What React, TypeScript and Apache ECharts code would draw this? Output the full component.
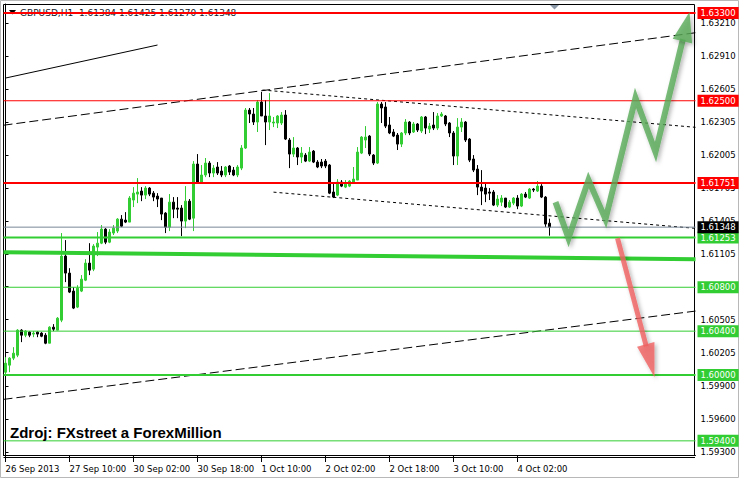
import React, { useEffect, useRef } from "react";
import * as echarts from "echarts";

const symbolTitle = "GBPUSD,H1  1.61384 1.61425 1.61270 1.61348";
const sourceNote = "Zdroj: FXstreet a ForexMillion";

const timeTickLabels = [
  "26 Sep 2013", "27 Sep 10:00", "30 Sep 02:00", "30 Sep 18:00", "1 Oct 10:00",
  "2 Oct 02:00", "2 Oct 18:00", "3 Oct 10:00", "4 Oct 02:00",
];
const barsBetweenTicks = 16;
const futureBars = 36;

const priceTicks = [
  1.593, 1.596, 1.599, 1.60205, 1.60505, 1.60805, 1.61105, 1.61405, 1.61705,
  1.62005, 1.62305, 1.62605, 1.6291, 1.6321,
];

const resistanceLevels = [1.633, 1.625, 1.61751];
const supportLevels = [1.61253, 1.608, 1.604, 1.6, 1.594];
const majorLevels = [1.633, 1.61751, 1.61253, 1.6];
const lastPrice = 1.61348;

// [open, high, low, close]
const ohlc: number[][] = [
  [1.60026, 1.60163, 1.6, 1.60108],
  [1.6009, 1.60163, 1.60026, 1.60154],
  [1.60154, 1.60254, 1.60136, 1.60199],
  [1.60181, 1.60418, 1.60163, 1.60409],
  [1.60409, 1.60418, 1.603, 1.60363],
  [1.60363, 1.60409, 1.60345, 1.604],
  [1.60391, 1.604, 1.60345, 1.60363],
  [1.60373, 1.604, 1.60345, 1.60382],
  [1.60391, 1.604, 1.60345, 1.60373],
  [1.60382, 1.60391, 1.60345, 1.60354],
  [1.60363, 1.60382, 1.60281, 1.6029],
  [1.6029, 1.60445, 1.6029, 1.60436],
  [1.60436, 1.60464, 1.604, 1.60418],
  [1.60409, 1.60528, 1.60409, 1.60518],
  [1.605, 1.61294, 1.60482, 1.61084],
  [1.61084, 1.6123, 1.60847, 1.60929],
  [1.60929, 1.60974, 1.60747, 1.60756],
  [1.60765, 1.60801, 1.60601, 1.6061],
  [1.60619, 1.60819, 1.6061, 1.60792],
  [1.60765, 1.60911, 1.60756, 1.60874],
  [1.60865, 1.61056, 1.60856, 1.6102],
  [1.6102, 1.61202, 1.60911, 1.60956],
  [1.60965, 1.61193, 1.60947, 1.61175],
  [1.61166, 1.61303, 1.61084, 1.61202],
  [1.61202, 1.61367, 1.61193, 1.6133],
  [1.6133, 1.61339, 1.61193, 1.61211],
  [1.61211, 1.6133, 1.61202, 1.61303],
  [1.61294, 1.61367, 1.61276, 1.61339],
  [1.61312, 1.6143, 1.61294, 1.61421],
  [1.61421, 1.61458, 1.61348, 1.61357],
  [1.61412, 1.61485, 1.61385, 1.61394],
  [1.61394, 1.61631, 1.61394, 1.61613],
  [1.61595, 1.61713, 1.61531, 1.61658],
  [1.61649, 1.61795, 1.61567, 1.61668],
  [1.61677, 1.61713, 1.61585, 1.6164],
  [1.6164, 1.61722, 1.61604, 1.61704],
  [1.61704, 1.61713, 1.61631, 1.61649],
  [1.61658, 1.61677, 1.61585, 1.61622],
  [1.61631, 1.61658, 1.61531, 1.61604],
  [1.61613, 1.61613, 1.61412, 1.61467],
  [1.61476, 1.61485, 1.61294, 1.61348],
  [1.61348, 1.6165, 1.61312, 1.61576],
  [1.61576, 1.61622, 1.6143, 1.61512],
  [1.61522, 1.61622, 1.6143, 1.61512],
  [1.61522, 1.61549, 1.61266, 1.61403],
  [1.61403, 1.61722, 1.61339, 1.61585],
  [1.61585, 1.61604, 1.61412, 1.61421],
  [1.6143, 1.6195, 1.61312, 1.61923],
  [1.61923, 1.62014, 1.6175, 1.61759],
  [1.61759, 1.61914, 1.6175, 1.61823],
  [1.61823, 1.61978, 1.61804, 1.61932],
  [1.61932, 1.6195, 1.61804, 1.61841],
  [1.61841, 1.61914, 1.61804, 1.61886],
  [1.61896, 1.61941, 1.61823, 1.61841],
  [1.61859, 1.61905, 1.61804, 1.61823],
  [1.61823, 1.61905, 1.61804, 1.61896],
  [1.61905, 1.61914, 1.61823, 1.6185],
  [1.61868, 1.61896, 1.61813, 1.61823],
  [1.61823, 1.61914, 1.61804, 1.61896],
  [1.61886, 1.62096, 1.61868, 1.62069],
  [1.62069, 1.62434, 1.6206, 1.62415],
  [1.62415, 1.62434, 1.62297, 1.62379],
  [1.62379, 1.62434, 1.62279, 1.62306],
  [1.62306, 1.62507, 1.62215, 1.62488],
  [1.62488, 1.6258, 1.62361, 1.62361],
  [1.62361, 1.62507, 1.62096, 1.62306],
  [1.62306, 1.6257, 1.62233, 1.62361],
  [1.62297, 1.62352, 1.6226, 1.62306],
  [1.62297, 1.6237, 1.62251, 1.62361],
  [1.62297, 1.62397, 1.62279, 1.6237],
  [1.6237, 1.62415, 1.62142, 1.62151],
  [1.62142, 1.6216, 1.61886, 1.62014],
  [1.62014, 1.62169, 1.61987, 1.62069],
  [1.62069, 1.62078, 1.61914, 1.61987],
  [1.61987, 1.62078, 1.61932, 1.62023],
  [1.62005, 1.62023, 1.61941, 1.6195],
  [1.6195, 1.62078, 1.61941, 1.62032],
  [1.62041, 1.62051, 1.61932, 1.61941],
  [1.61941, 1.61959, 1.61886, 1.61896],
  [1.61941, 1.61969, 1.61886, 1.61905],
  [1.6195, 1.61969, 1.61886, 1.61905],
  [1.61914, 1.61923, 1.61649, 1.61658],
  [1.61668, 1.6175, 1.61613, 1.61622],
  [1.6164, 1.61786, 1.61631, 1.61759],
  [1.61759, 1.61777, 1.61713, 1.61722],
  [1.61713, 1.61777, 1.61704, 1.6174],
  [1.61722, 1.61777, 1.61713, 1.61768],
  [1.61759, 1.61896, 1.61759, 1.61786],
  [1.61777, 1.62078, 1.61777, 1.62032],
  [1.62023, 1.62178, 1.62014, 1.62169],
  [1.62142, 1.62269, 1.62069, 1.62169],
  [1.62178, 1.62187, 1.61996, 1.62014],
  [1.62005, 1.62014, 1.61914, 1.61932],
  [1.61932, 1.62488, 1.61923, 1.6247],
  [1.6247, 1.62488, 1.62297, 1.62434],
  [1.62443, 1.62488, 1.62251, 1.62269],
  [1.62279, 1.62352, 1.62196, 1.62206],
  [1.62215, 1.62242, 1.62169, 1.62178],
  [1.62187, 1.62206, 1.62051, 1.62105],
  [1.62105, 1.62215, 1.62078, 1.62206],
  [1.62206, 1.62333, 1.62187, 1.62306],
  [1.62306, 1.62315, 1.62187, 1.62206],
  [1.62215, 1.62306, 1.62206, 1.62288],
  [1.62288, 1.62297, 1.62215, 1.62233],
  [1.62224, 1.62361, 1.62206, 1.62352],
  [1.62352, 1.62361, 1.62196, 1.62251],
  [1.62242, 1.62297, 1.62206, 1.62269],
  [1.62279, 1.62397, 1.62233, 1.62251],
  [1.62251, 1.62388, 1.62233, 1.62361],
  [1.62361, 1.62397, 1.62352, 1.62379],
  [1.62361, 1.6237, 1.62269, 1.62288],
  [1.62297, 1.62306, 1.62169, 1.62206],
  [1.62206, 1.62224, 1.61914, 1.61996],
  [1.61996, 1.62342, 1.61914, 1.6226],
  [1.6226, 1.62342, 1.62215, 1.62306],
  [1.62306, 1.62315, 1.62124, 1.62142],
  [1.62151, 1.6216, 1.61941, 1.61959],
  [1.61969, 1.62005, 1.6185, 1.61868],
  [1.61877, 1.61914, 1.6164, 1.61713],
  [1.61713, 1.61868, 1.61549, 1.61677],
  [1.61704, 1.6175, 1.61576, 1.61649],
  [1.61668, 1.61704, 1.61595, 1.61658],
  [1.61668, 1.61686, 1.6154, 1.61549],
  [1.61549, 1.6164, 1.61531, 1.61604],
  [1.61576, 1.6164, 1.6154, 1.61613],
  [1.61613, 1.61613, 1.61522, 1.61531],
  [1.61531, 1.61595, 1.61522, 1.61576],
  [1.61567, 1.61622, 1.61549, 1.61613],
  [1.61613, 1.6164, 1.61512, 1.6154],
  [1.6154, 1.61658, 1.61531, 1.61649],
  [1.61649, 1.61668, 1.61613, 1.61622],
  [1.61613, 1.61704, 1.61604, 1.61695],
  [1.61695, 1.61704, 1.61668, 1.61686],
  [1.61677, 1.61768, 1.61668, 1.61722],
  [1.61722, 1.6174, 1.61613, 1.61622],
  [1.61622, 1.61631, 1.61348, 1.61376],
  [1.61384, 1.61425, 1.6127, 1.61348],
];

// trend lines: [barIndex, price]
const solidTrend = [[0, 1.62707], [38, 1.63008]];
const channelUpper = [[-0.5, 1.62277], [172.5, 1.6312]];
const channelLower = [[-0.5, 1.59778], [172.5, 1.60583]];
const flagUpper = [[64.25, 1.62598], [172.5, 1.62258]];
const flagLower = [[67, 1.61667], [172.5, 1.61337]];
const supportTrend = [[-0.5, 1.6112], [172.5, 1.61056]];

// forecast arrows: [barIndex, price], last point is the tip
const bullPath = [
  [137.5, 1.61576], [140.75, 1.61248], [145.75, 1.61777], [150, 1.61421],
  [157.5, 1.62525], [162.5, 1.62032], [171, 1.63309],
];
const bearPath = [[153, 1.61248], [162.25, 1.5998]];

const FONT = "'DejaVu Sans', Tahoma, sans-serif";
const RED = "#ff0000";
const GREEN = "#32cd32";

export default function App() {
  const ref = useRef<HTMLDivElement>(null);

  useEffect(() => {
    if (!ref.current) return;
    const chart = echarts.init(ref.current, undefined, { renderer: "svg" });
    const totalBars = ohlc.length + futureBars;
    const xMin = -0.5;
    const xMax = totalBars - 0.5;
    const categories = Array.from({ length: totalBars }, (_, i) => String(i));
    const showTick = (i: number) =>
      i % barsBetweenTicks === 0 && i / barsBetweenTicks < timeTickLabels.length;

    const levelSeries = (price: number, lineColor: string, labelBg: string, width: number) => ({
      type: "line",
      xAxisIndex: 1,
      yAxisIndex: 0,
      data: [[xMin, price], [xMax, price]],
      showSymbol: false,
      symbol: "none",
      silent: true,
      z: 5,
      lineStyle: { color: lineColor, width, type: "solid", opacity: 1 },
      endLabel: {
        show: true,
        distance: 2,
        formatter: () => price.toFixed(5),
        color: "#fff",
        backgroundColor: labelBg,
        fontSize: 8.5,
        fontFamily: FONT,
        padding: [2, 3, 1, 3],
      },
    });

    const levels = [
      ...resistanceLevels.map((p) => levelSeries(p, RED, RED, majorLevels.includes(p) ? 2 : 1)),
      ...supportLevels.map((p) => levelSeries(p, GREEN, GREEN, majorLevels.includes(p) ? 2 : 1)),
      levelSeries(lastPrice, "#778899", "#000", 1),
    ];

    const trendSeries = (data: number[][], width: number, type: any, color = "#000", z = 4) => ({
      type: "line",
      xAxisIndex: 1,
      yAxisIndex: 0,
      data,
      showSymbol: false,
      symbol: "none",
      silent: true,
      z,
      lineStyle: { color, width, type },
    });

    const arrows = [
      { points: bullPath, color: "rgba(88,170,88,0.8)", width: 6, headLen: 30, headHalf: 10 },
      { points: bearPath, color: "rgba(240,96,96,0.8)", width: 5, headLen: 34, headHalf: 9 },
    ];

    const option: any = {
      animation: false,
      backgroundColor: "#fff",
      grid: { left: 3.5, right: 43.5, top: 4, bottom: 24, containLabel: false },
      xAxis: [
        {
          type: "category",
          data: categories,
          boundaryGap: true,
          axisLine: { show: true, lineStyle: { color: "#000", width: 1 } },
          axisTick: {
            show: true,
            alignWithLabel: true,
            interval: (i: number) => showTick(i),
            length: 7,
            lineStyle: { color: "#000" },
          },
          axisLabel: {
            interval: (i: number) => showTick(i),
            formatter: (_v: string, i: number) =>
              showTick(i) ? timeTickLabels[i / barsBetweenTicks] : "",
            align: "left",
            margin: 9,
            color: "#000",
            fontSize: 8.5,
            fontFamily: FONT,
          },
          splitLine: { show: false },
        },
        {
          type: "value",
          min: xMin,
          max: xMax,
          show: false,
        },
      ],
      yAxis: {
        type: "value",
        position: "right",
        min: 1.59271,
        max: 1.63382,
        scale: true,
        splitLine: { show: false },
        axisLine: { show: true, lineStyle: { color: "#000", width: 1 } },
        axisTick: {
          show: true,
          length: 3,
          customValues: priceTicks,
          lineStyle: { color: "#000" },
        },
        axisLabel: {
          customValues: priceTicks,
          formatter: (v: number) => v.toFixed(5),
          color: "#000",
          fontSize: 8.5,
          fontFamily: FONT,
          margin: 5,
        },
      },
      series: [
        {
          type: "candlestick",
          xAxisIndex: 0,
          yAxisIndex: 0,
          data: ohlc.map(([o, h, l, c]) => [o, c, l, h]),
          barWidth: 2,
          z: 2,
          silent: true,
          itemStyle: {
            color: GREEN,
            color0: "#000",
            borderColor: GREEN,
            borderColor0: "#000",
            borderWidth: 1,
          },
        },
        trendSeries(solidTrend, 1, "solid"),
        trendSeries(channelUpper, 1, [9, 4]),
        trendSeries(channelLower, 1, [9, 4]),
        trendSeries(flagUpper, 1, [3, 3]),
        trendSeries(flagLower, 1, [3, 3]),
        trendSeries(supportTrend, 4, "solid", GREEN, 5),
        ...levels,
        {
          type: "custom",
          xAxisIndex: 1,
          yAxisIndex: 0,
          silent: true,
          clip: false,
          z: 8,
          data: arrows.map((_, i) => [i, 1.61]),
          renderItem: (params: any, api: any) => {
            const a = arrows[params.dataIndex];
            const pts = a.points.map((p) => api.coord(p));
            const tip = pts[pts.length - 1];
            const prev = pts[pts.length - 2];
            const dx = tip[0] - prev[0];
            const dy = tip[1] - prev[1];
            const len = Math.hypot(dx, dy);
            const ux = dx / len;
            const uy = dy / len;
            const bx = tip[0] - ux * a.headLen;
            const by = tip[1] - uy * a.headLen;
            const shaft = [...pts.slice(0, -1), [bx + ux * 2, by + uy * 2]];
            const shadow = {
              shadowBlur: 4,
              shadowColor: "rgba(0,0,0,0.35)",
              shadowOffsetX: 2,
              shadowOffsetY: 2,
            };
            return {
              type: "group",
              children: [
                {
                  type: "polyline",
                  shape: { points: shaft },
                  style: { stroke: a.color, lineWidth: a.width, fill: null, lineJoin: "miter", ...shadow },
                },
                {
                  type: "polygon",
                  shape: {
                    points: [
                      tip,
                      [bx - uy * a.headHalf, by + ux * a.headHalf],
                      [bx + uy * a.headHalf, by - ux * a.headHalf],
                    ],
                  },
                  style: { fill: a.color, ...shadow },
                },
              ],
            };
          },
        },
      ],
      graphic: [
        {
          type: "rect",
          z: 0,
          silent: true,
          shape: { x: 0.5, y: 0.5, width: 738, height: 477 },
          style: { fill: "none", stroke: "#b8b8b8", lineWidth: 1 },
        },
        {
          type: "rect",
          z: 0,
          silent: true,
          shape: { x: 3.5, y: 4.5, width: 691, height: 451 },
          style: { fill: "none", stroke: "#000", lineWidth: 1 },
        },
        {
          type: "line",
          z: 0,
          silent: true,
          shape: { x1: 3.5, y1: 457.5, x2: 695, y2: 457.5 },
          style: { stroke: "#000", lineWidth: 1 },
        },
        {
          type: "polygon",
          z: 0,
          silent: true,
          shape: { points: [[9, 10], [16, 10], [12.5, 14.5]] },
          style: { fill: "#000" },
        },
        {
          type: "polygon",
          z: 0,
          silent: true,
          shape: { points: [[550, 5], [559, 5], [554.5, 9.5]] },
          style: { fill: "#8a98a8" },
        },
        {
          type: "text",
          z: 0,
          silent: true,
          style: {
            x: 20,
            y: 13,
            text: symbolTitle,
            fill: "#101828",
            font: `9px ${FONT}`,
            verticalAlign: "middle",
          },
        },
        {
          type: "text",
          z: 10,
          silent: true,
          style: {
            x: 10,
            y: 432,
            text: sourceNote,
            fill: "#000",
            font: "bold 15px 'Liberation Sans', Arial, sans-serif",
            verticalAlign: "middle",
          },
        },
      ],
    };

    chart.setOption(option);
    return () => chart.dispose();
  }, []);

  return (
    <div
      ref={ref}
      style={{ position: "fixed", left: 0, top: 0, width: 739, height: 479, background: "#fff" }}
    />
  );
}
